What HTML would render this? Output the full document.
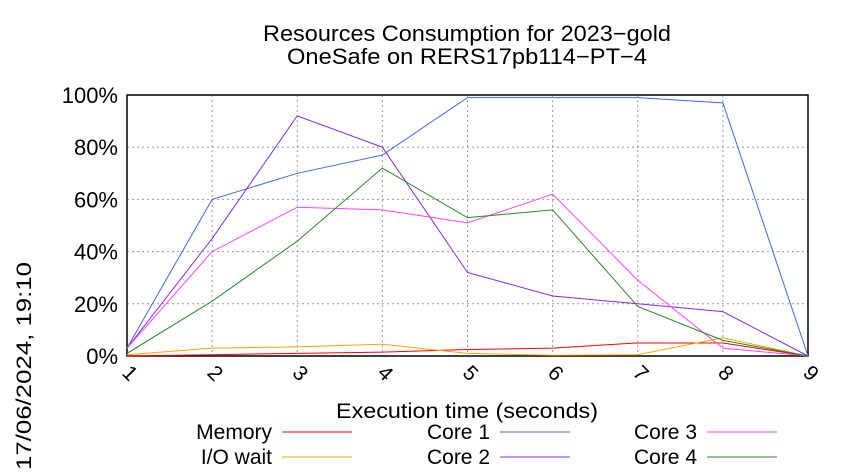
<!DOCTYPE html>
<html><head><meta charset="utf-8"><style>body{margin:0;background:#fff}svg{display:block}text{font-family:"Liberation Sans",sans-serif;fill:#000}</style></head>
<body>
<svg id="c" width="850" height="475">
<text x="467" y="41" font-size="22" text-anchor="middle" textLength="408" lengthAdjust="spacingAndGlyphs">Resources Consumption for 2023−gold</text>
<text x="467" y="64" font-size="22" text-anchor="middle" textLength="360" lengthAdjust="spacingAndGlyphs">OneSafe on RERS17pb114−PT−4</text>
<text transform="translate(31,470) rotate(-90)" font-size="21" textLength="208" lengthAdjust="spacingAndGlyphs">17/06/2024, 19:10</text>
<text x="467" y="418" font-size="21" text-anchor="middle" textLength="262" lengthAdjust="spacingAndGlyphs">Execution time (seconds)</text>
<g id="grid"></g><g id="series"></g><g id="legend"></g>
</svg>
<script>
const categories=[1,2,3,4,5,6,7,8,9];
const yTicks=[0,20,40,60,80,100];
const memory=[0,0.5,1,1.5,2.5,3,5,5,0];
const ioWait=[0.5,3,3.5,4.5,1,0.3,0.5,7,0];
const core1=[3,60,70,77,99,99,99,97,0];
const core2=[3,45,92,80,32,23,20,17,0];
const core3=[3,40,57,56,51,62,29,3,0];
const core4=[1,21,44,72,53,56,19,6,0];
const names=["Memory","I/O wait","Core 1","Core 2","Core 3","Core 4"];
const colors=["#ff0000","#ffa500","#4169e1","#8a2be2","#ff44ff","#228b22"];
const series=[memory,ioWait,core1,core2,core3,core4];
const L=127,R=808,T=95,B=356;
const xs=v=>L+(v-1)*(R-L)/8, ys=v=>B-v*(B-T)/100;
const NS="http://www.w3.org/2000/svg";
function mk(p,t,a){const e=document.createElementNS(NS,t);for(const k in a)e.setAttribute(k,a[k]);p.appendChild(e);return e;}
const g=document.getElementById('grid');
yTicks.forEach(v=>{const y=ys(v);
 const l=mk(g,'line',{x1:L,x2:R,y1:y,y2:y,stroke:'#999','stroke-dasharray':'2,3','stroke-width':1});
 
 const t=mk(g,'text',{x:L-9,y:y+8,'font-size':22,'text-anchor':'end'});t.textContent=v+'%';
 });
categories.forEach(c=>{const x=xs(c);
 const l=mk(g,'line',{x1:x,x2:x,y1:T,y2:B,stroke:'#999','stroke-dasharray':'2,3','stroke-width':1});
 
 const t=mk(g,'text',{transform:`translate(${x-6},${B+18}) rotate(45)`,'font-size':21});t.textContent=c;
 });
const fr=mk(g,'rect',{x:L,y:T,width:R-L,height:B-T,fill:'none',stroke:'#000','stroke-width':1.5});

const s=document.getElementById('series');
series.forEach((d,i)=>{const p=mk(s,'polyline',{points:d.map((v,j)=>xs(categories[j])+','+ys(v)).join(' '),fill:'none',stroke:colors[i],'stroke-width':1});
 });
const lg=document.getElementById('legend');
const pos=[[272,432],[272,457],[490,432],[490,457],[697,432],[697,457]];
const lens=[83,86,83,83,83,83];
names.forEach((n,i)=>{const [x,y]=pos[i];
 const t=mk(lg,'text',{x:x,y:y+7,'font-size':21,'text-anchor':'end'});t.textContent=n;
 
 const l=mk(lg,'line',{x1:x+10,x2:x+80,y1:y,y2:y,stroke:colors[i],'stroke-width':1});
 });
</script>
</body></html>
